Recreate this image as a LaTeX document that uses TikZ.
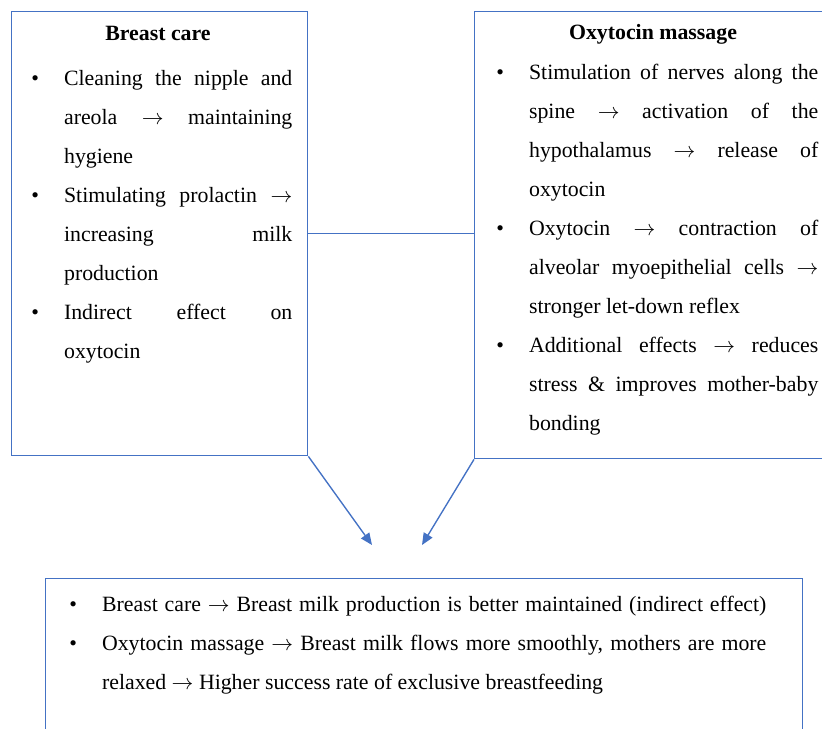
\documentclass[tikz,border=0pt]{standalone}
\usepackage{fontspec}
\setmainfont{Liberation Serif}
\usetikzlibrary{arrows.meta}
\definecolor{boxblue}{RGB}{68,114,196}
\newlength{\bulletind}
\setlength{\bulletind}{18pt}
\newcommand{\ar}{$\rightarrow$}
% one bullet point, hanging indent
\newcommand{\bitem}[1]{\noindent\hangindent=\bulletind\hangafter=1\makebox[\bulletind][l]{\textbullet}#1\par}
% one justified line inside a bullet
\newcommand{\jline}[1]{\makebox[\dimexpr\hsize-\bulletind\relax][s]{#1}\newline}
\newcommand{\jlast}[1]{\makebox[\dimexpr\hsize-\bulletind\relax][s]{#1}}
\tikzset{
  box/.style={draw=boxblue, line width=0.75pt, rectangle, anchor=north west, inner sep=0pt},
  boxtext/.style={anchor=north west, inner sep=0pt, align=justify,
    font=\fontsize{12}{21.45}\selectfont},
  boxtitle/.style={font=\fontsize{12}{14}\selectfont\bfseries},
  link/.style={draw=boxblue, line width=0.75pt},
  arr/.style={link, -{Triangle[length=6.5pt,width=5.5pt]}}
}
\begin{document}
\begin{tikzpicture}[x=0.55pt, y=-0.55pt]
      \useasboundingbox (0,0) rectangle (822,728);

      %Breast care
      \node[box, minimum width=162.8pt, minimum height=244.2pt] (care) at (11,11) {};
      \node[boxtitle] (caretitle) at (158,33) {Breast care};
      \node[boxtext, text width=143.55pt] (caretext) at (31,70) {%
        \bitem{\jline{Cleaning the nipple and}\jline{areola \ar{} maintaining}hygiene}%
        \bitem{\jline{Stimulating prolactin \ar}\jline{increasing milk}production}%
        \bitem{\jline{Indirect effect on}oxytocin}};

      %Oxytocin massage
      \node[box, minimum width=195.8pt, minimum height=245.85pt] (massage) at (474,11) {};
      \node[boxtitle] (massagetitle) at (653,34) {Oxytocin massage};
      \node[boxtext, text width=177.1pt] (massagetext) at (496,64) {%
        \bitem{\jline{Stimulation of nerves along the}\jline{spine \ar{} activation of the}\jline{hypothalamus \ar{} release of}oxytocin}%
        \bitem{\jline{Oxytocin \ar{} contraction of}\jline{alveolar myoepithelial cells \ar}stronger let-down reflex}%
        \bitem{\jline{Additional effects \ar{} reduces}\jline{stress \& improves mother-baby}bonding}};

      %Outcome
      \node[box, minimum width=416.35pt, minimum height=89.1pt] (outcome) at (45,578) {};
      \node[boxtext, text width=383.35pt] (outcometext) at (69,596) {%
        \bitem{\jlast{Breast care \ar{} Breast milk production is better maintained (indirect effect)}}%
        \bitem{\jline{Oxytocin massage \ar{} Breast milk flows more smoothly, mothers are more}relaxed \ar{} Higher success rate of exclusive breastfeeding}};

      %Flèches
      \coordinate (tipL) at (372,545);
      \coordinate (tipR) at (422,545);
      \draw[link] (care.east) -- (care.east -| massage.west);
      \draw[arr] (care.south east) -- (tipL);
      \draw[arr] (massage.south west) -- (tipR);
\end{tikzpicture}
\end{document}
